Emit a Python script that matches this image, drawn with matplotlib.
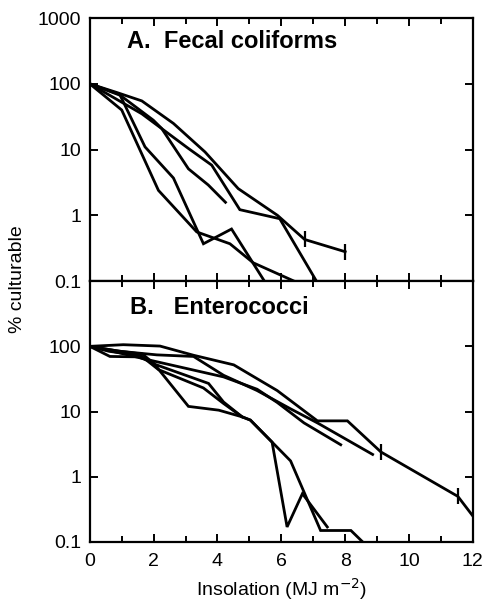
import matplotlib
matplotlib.use("Agg")
import matplotlib.pyplot as plt
from matplotlib.ticker import FixedLocator, NullLocator, FixedFormatter

plt.rcParams["font.family"] = ["Liberation Sans", "DejaVu Sans"]

# ---- A. Fecal coliforms: % culturable vs insolation (MJ m-2) ----
fc1_x = [0, 0.84, 1.63, 2.62, 3.61, 4.65, 5.88, 6.73, 8.0]
fc1_y = [100, 74, 55, 25, 9.2, 2.55, 1.0, 0.43, 0.28]
fc1_marks = [7, 8]
fc2_x = [0, 1.63, 3.09, 3.82, 4.70, 5.95, 7.10]
fc2_y = [100, 35, 10.4, 5.8, 1.22, 0.89, 0.1]
fc3_x = [0, 0.9, 1.99, 2.25, 3.09, 3.71, 4.25]
fc3_y = [100, 70, 28, 21, 5.1, 2.9, 1.58]
fc4_x = [0, 0.95, 1.73, 2.62, 3.56, 4.44, 5.47]
fc4_y = [100, 67, 11, 3.7, 0.37, 0.62, 0.1]
fc5_x = [0, 1.0, 2.15, 3.35, 4.39, 5.12, 6.4]
fc5_y = [100, 40, 2.4, 0.56, 0.37, 0.19, 0.1]

# ---- B. Enterococci ----
ent1_x = [0, 1.05, 2.2, 3.25, 4.51, 5.87, 7.13, 8.07, 9.12, 11.53, 12.0]
ent1_y = [100, 106, 101, 73, 52, 21, 7.2, 7.2, 2.4, 0.5, 0.25]
ent1_marks = [8, 9]
ent2_x = [0, 0.94, 2.1, 3.25, 4.19, 5.24, 6.29, 7.13, 8.86]
ent2_y = [100, 84, 74, 70, 36, 21, 11, 6.7, 2.2]
ent3_x = [0, 0.9, 1.78, 4.19, 5.24, 5.87, 6.71, 7.86]
ent3_y = [100, 80, 63, 34, 22, 13.8, 6.7, 3.1]
ent4_x = [0, 0.63, 1.52, 1.99, 3.09, 4.04, 4.77, 5.03, 5.71, 6.18, 6.66, 7.44]
ent4_y = [100, 70, 69, 56, 12, 10.5, 8.3, 7.4, 3.4, 0.17, 0.55, 0.17]
ent5_x = [0, 0.8, 1.65, 2.04, 3.72, 4.19, 4.77, 5.03, 5.71, 6.29, 7.23, 8.18, 8.55]
ent5_y = [100, 86, 76, 53, 27, 14, 8.3, 7.4, 3.4, 1.75, 0.15, 0.15, 0.1]
ent6_x = [0, 0.6, 1.6, 2.15, 3.56, 4.19, 4.77]
ent6_y = [100, 84, 72, 44, 23, 13.3, 8.3]

x_major = [0, 2, 4, 6, 8, 10, 12]
x_minor = [1, 3, 5, 7, 9, 11]
y_ticks = [0.1, 1, 10, 100, 1000]
y_labels_a = ["0.1", "1", "10", "100", "1000"]
y_labels_b = ["0.1", "1", "10", "100", ""]

fig = plt.figure(figsize=(4.88, 6.02), dpi=100)
left, width = 0.184, 0.785
ax_a = fig.add_axes([left, 0.533, width, 0.437])
ax_b = fig.add_axes([left, 0.0997, width, 0.4333])

LW = 2.0
for ax in (ax_a, ax_b):
    ax.set_yscale("log")
    ax.set_xlim(0, 12)
    ax.set_ylim(0.1, 1000)
    for s in ax.spines.values():
        s.set_linewidth(1.6)
    ax.xaxis.set_major_locator(FixedLocator(x_major))
    ax.xaxis.set_minor_locator(FixedLocator(x_minor))
    ax.yaxis.set_major_locator(FixedLocator(y_ticks))
    ax.yaxis.set_minor_locator(NullLocator())
    ax.tick_params(axis="both", which="both", direction="in",
                   top=True, right=True, width=1.4, labelsize=14)
    ax.tick_params(axis="x", which="major", length=6, pad=8)
    ax.tick_params(axis="x", which="minor", length=4)
    ax.tick_params(axis="y", which="major", length=6, pad=6)

ax_a.yaxis.set_major_formatter(FixedFormatter(y_labels_a))
ax_b.yaxis.set_major_formatter(FixedFormatter(y_labels_b))
ax_a.tick_params(axis="x", labelbottom=False)

line_kw = dict(color="black", lw=LW, solid_joinstyle="miter")
ax_a.plot(fc1_x, fc1_y, marker="|", markersize=11, markeredgewidth=1.6,
          markevery=fc1_marks, **line_kw)
for xs, ys in [(fc2_x, fc2_y), (fc3_x, fc3_y), (fc4_x, fc4_y), (fc5_x, fc5_y)]:
    ax_a.plot(xs, ys, **line_kw)

ax_b.plot(ent1_x, ent1_y, marker="|", markersize=11, markeredgewidth=1.6,
          markevery=ent1_marks, **line_kw)
for xs, ys in [(ent2_x, ent2_y), (ent3_x, ent3_y), (ent4_x, ent4_y),
               (ent5_x, ent5_y), (ent6_x, ent6_y)]:
    ax_b.plot(xs, ys, **line_kw)

ax_a.text(0.097, 0.912, "A.  Fecal coliforms", transform=ax_a.transAxes,
          fontsize=17, fontweight="bold", va="center", ha="left")
ax_b.text(0.104, 0.90, "B.   Enterococci", transform=ax_b.transAxes,
          fontsize=17, fontweight="bold", va="center", ha="left")

ax_b.set_xlabel("Insolation (MJ m$^{-2}$)", fontsize=14, labelpad=4)
fig.text(0.035, 0.537, "% culturable", rotation=90, fontsize=14,
         va="center", ha="center")

fig.savefig("out.png", dpi=100)
